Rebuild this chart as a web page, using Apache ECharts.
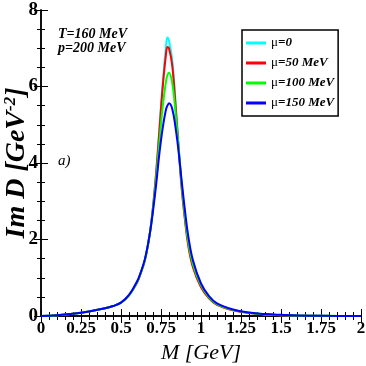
<!DOCTYPE html>
<html>
<head>
<meta charset="utf-8">
<script src="https://cdn.jsdelivr.net/npm/echarts@6/dist/echarts.min.js"></script>
<style>
  html, body { margin: 0; padding: 0; background: #fff; }
  #chart { width: 366px; height: 366px; }
</style>
</head>
<body>
<div id="chart"></div>
<script>
// M values [GeV]
var masses = [0, 0.1, 0.2, 0.3, 0.4, 0.45, 0.5, 0.55, 0.6, 0.62, 0.65, 0.68, 0.7, 0.72, 0.74, 0.76, 0.78, 0.79, 0.8, 0.82, 0.84, 0.86, 0.88, 0.9, 0.92, 0.95, 1.0, 1.05, 1.1, 1.2, 1.3, 1.4, 1.5, 1.6, 1.8, 2.0];
// Im D
var mu0   = [0, 0.02, 0.06, 0.12, 0.2, 0.26, 0.35, 0.54, 0.87, 1.08, 1.47, 2.15, 2.85, 3.78, 4.9, 6.05, 7.0, 7.28, 7.2, 6.7, 5.65, 4.45, 3.35, 2.55, 1.9, 1.3, 0.78, 0.47, 0.3, 0.155, 0.082, 0.042, 0.022, 0.011, 0.003, 0];
var mu50  = [0, 0.02, 0.06, 0.12, 0.2, 0.26, 0.35, 0.54, 0.87, 1.08, 1.47, 2.15, 2.85, 3.75, 4.85, 5.95, 6.8, 7.03, 7.0, 6.55, 5.55, 4.4, 3.3, 2.5, 1.85, 1.27, 0.75, 0.46, 0.29, 0.15, 0.08, 0.04, 0.02, 0.01, 0.003, 0];
var mu100 = [0, 0.02, 0.06, 0.12, 0.2, 0.26, 0.35, 0.54, 0.88, 1.09, 1.48, 2.15, 2.8, 3.6, 4.55, 5.45, 6.1, 6.3, 6.36, 6.1, 5.35, 4.4, 3.4, 2.6, 1.95, 1.35, 0.8, 0.49, 0.31, 0.16, 0.085, 0.045, 0.025, 0.012, 0.004, 0];
var mu150 = [0, 0.02, 0.06, 0.12, 0.2, 0.26, 0.35, 0.55, 0.9, 1.1, 1.5, 2.15, 2.75, 3.45, 4.25, 4.9, 5.38, 5.5, 5.56, 5.42, 4.95, 4.3, 3.5, 2.75, 2.1, 1.45, 0.85, 0.52, 0.33, 0.17, 0.09, 0.05, 0.03, 0.015, 0.005, 0];

var names = ['μ=0', 'μ=50 MeV', 'μ=100 MeV', 'μ=150 MeV'];
var colors = ['#00ffff', '#ff0000', '#00ff00', '#0000ff'];
var xTicks = ['0', '0.25', '0.5', '0.75', '1', '1.25', '1.5', '1.75', '2'];

var serif = '"Liberation Serif", "DejaVu Serif", serif';

function pairs(ys) {
    return masses.map(function (m, i) { return [m, ys[i]]; });
}

var myChart = echarts.init(document.getElementById('chart'));

option = {
    animation: false,
    backgroundColor: '#fff',
    grid: { left: 41, right: 5, top: 10, bottom: 50, outerBoundsMode: 'none', containLabel: false },
    legend: {
        left: 242,
        top: 30,
        orient: 'vertical',
        icon: 'rect',
        itemWidth: 20,
        itemHeight: 3,
        itemGap: 6,
        padding: [6, 4, 6, 4],
        borderColor: '#000',
        borderWidth: 1.5,
        data: names,
        formatter: function (name) {
            return '{m|μ}{t|' + name.slice(1) + '}';
        },
        textStyle: {
            lineHeight: 14,
            rich: {
                m: { fontFamily: serif, fontSize: 13, color: '#000' },
                t: { fontFamily: serif, fontSize: 13, fontStyle: 'italic', fontWeight: 'bold', color: '#000' }
            }
        }
    },
    xAxis: [{
        type: 'value',
        min: 0, max: 2, interval: 0.25,
        name: 'M [GeV]',
        nameLocation: 'middle',
        nameGap: 26,
        nameMoveOverlap: false,
        nameTextStyle: { fontFamily: serif, fontSize: 22, fontStyle: 'italic', color: '#000' },
        axisLine: { lineStyle: { color: '#000', width: 1.5 } },
        axisTick: { inside: true, length: 7, lineStyle: { color: '#000' } },
        minorTick: { show: true, splitNumber: 5, length: 4, lineStyle: { color: '#000' } },
        splitLine: { show: false },
        axisLabel: {
            fontFamily: serif, fontSize: 17, fontWeight: 'bold', color: '#000', margin: 4,
            formatter: function (v) { return xTicks[Math.round(v / 0.25)]; }
        }
    }, {
        type: 'value',
        position: 'top',
        min: 0, max: 2, interval: 0.25,
        axisLine: { lineStyle: { color: '#000', width: 1.5 } },
        axisTick: { inside: true, length: 7, lineStyle: { color: '#000' } },
        minorTick: { show: true, splitNumber: 5, length: 4, lineStyle: { color: '#000' } },
        splitLine: { show: false },
        axisLabel: { show: false }
    }],
    yAxis: [{
        type: 'value',
        min: 0, max: 8, interval: 2,
        name: '{a|Im D [GeV}{s|-2}{a|]}',
        nameLocation: 'middle',
        nameGap: 10,
        nameMoveOverlap: false,
        nameTextStyle: {
            rich: {
                a: { fontFamily: serif, fontSize: 28, fontStyle: 'italic', fontWeight: 'bold', color: '#000' },
                s: { fontFamily: serif, fontSize: 17, fontStyle: 'italic', fontWeight: 'bold', color: '#000', verticalAlign: 'top', padding: [0, 0, 12, 0] }
            }
        },
        axisLine: { lineStyle: { color: '#000', width: 1.5 } },
        axisTick: { inside: true, length: 7, lineStyle: { color: '#000' } },
        minorTick: { show: true, splitNumber: 4, length: 4, lineStyle: { color: '#000' } },
        splitLine: { show: false },
        axisLabel: { fontFamily: serif, fontSize: 19, fontWeight: 'bold', color: '#000', margin: 3 }
    }, {
        type: 'value',
        position: 'right',
        min: 0, max: 8, interval: 2,
        axisLine: { lineStyle: { color: '#000', width: 1.5 } },
        axisTick: { inside: true, length: 7, lineStyle: { color: '#000' } },
        minorTick: { show: true, splitNumber: 4, length: 4, lineStyle: { color: '#000' } },
        splitLine: { show: false },
        axisLabel: { show: false }
    }],
    graphic: [
        { type: 'text', left: 58, top: 27, style: { text: 'T=160 MeV', font: 'italic bold 14px ' + serif, fill: '#000' } },
        { type: 'text', left: 58, top: 41, style: { text: 'p=200 MeV', font: 'italic bold 14px ' + serif, fill: '#000' } },
        { type: 'text', left: 58, top: 154, style: { text: 'a)', font: 'italic 15px ' + serif, fill: '#000' } }
    ],
    series: [mu0, mu50, mu100, mu150].map(function (ys, i) {
        return {
            name: names[i],
            type: 'line',
            smooth: 0.4,
            showSymbol: false,
            symbol: 'none',
            data: pairs(ys),
            lineStyle: { color: colors[i], width: 2 },
            itemStyle: { color: colors[i] }
        };
    })
};
myChart.setOption(option);
</script>
</body>
</html>
